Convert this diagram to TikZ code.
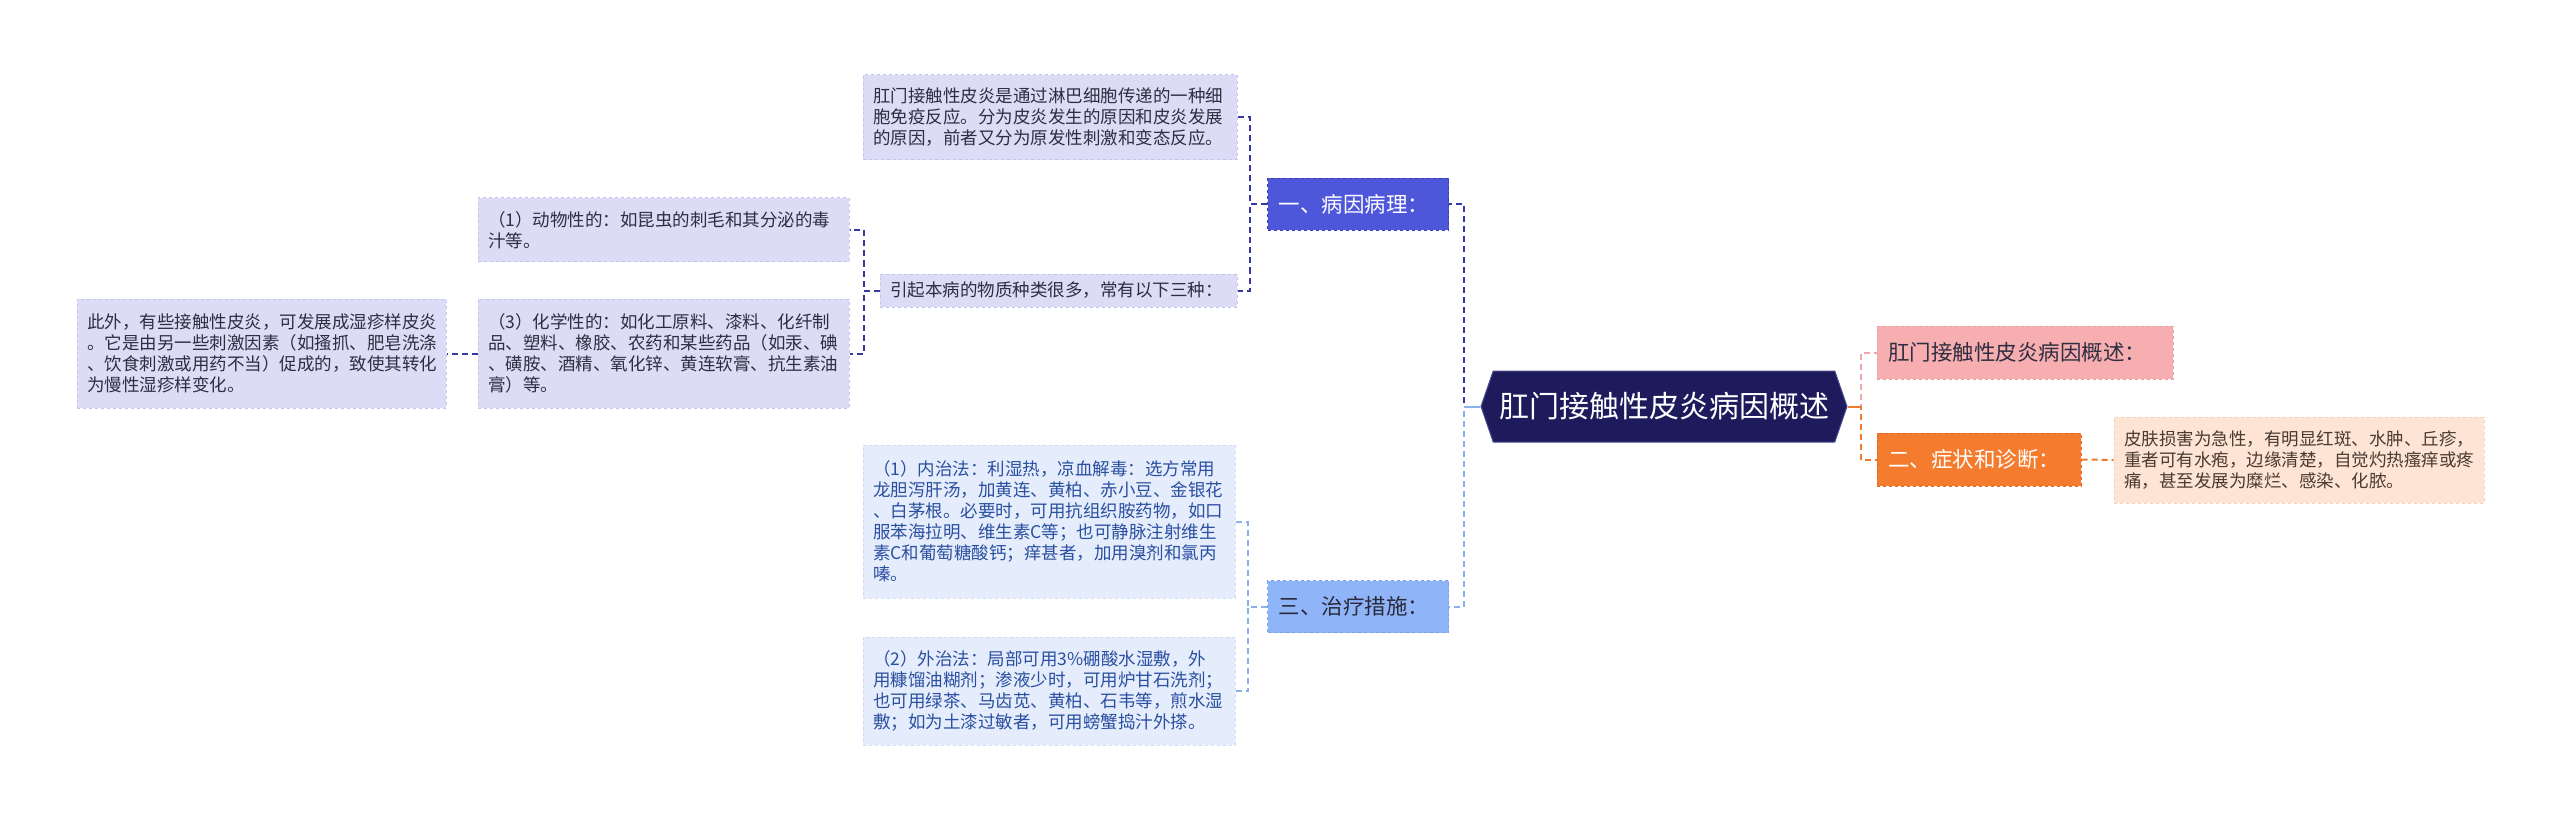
\documentclass[tikz,border=0pt]{standalone}
\usepackage{fontspec}
\setmainfont{Noto Sans CJK SC}
\usetikzlibrary{shapes.symbols}
\definecolor{lavfill}{HTML}{DCDCF7}
\definecolor{lavdraw}{HTML}{C4C4EC}
\definecolor{lavtext}{HTML}{2E2E40}
\definecolor{bonefill}{HTML}{4E56D9}
\definecolor{bonedraw}{HTML}{3A3EB4}
\definecolor{bthreefill}{HTML}{8FB4F7}
\definecolor{bthreedraw}{HTML}{7AA2EA}
\definecolor{bthreetext}{HTML}{2A2A3C}
\definecolor{cfill}{HTML}{E5EDFC}
\definecolor{cdraw}{HTML}{CCDAF6}
\definecolor{ctext}{HTML}{2A4FA0}
\definecolor{rootfill}{HTML}{1E1B5C}
\definecolor{rootdraw}{HTML}{4A4A8E}
\definecolor{pinkfill}{HTML}{F6AEB0}
\definecolor{pinkdraw}{HTML}{EE9DA0}
\definecolor{orangefill}{HTML}{F57C2E}
\definecolor{orangedraw}{HTML}{E06A20}
\definecolor{peachfill}{HTML}{FDE4D4}
\definecolor{peachdraw}{HTML}{F6D0B8}
\definecolor{peachtext}{HTML}{4A3A30}
\definecolor{darkline}{HTML}{363AA0}
\definecolor{lightline}{HTML}{8AB0EE}
\definecolor{pinkline}{HTML}{F2A6AA}
\definecolor{orangeline}{HTML}{EE7A30}
\begin{document}
\begin{tikzpicture}[x=1pt,y=-1pt,
  box/.style={rectangle, dashed, line width=1pt, inner xsep=10pt, inner ysep=0pt, align=left, font=\fontsize{17.5}{21}\selectfont},
  lav/.style={box, fill=lavfill, draw=lavdraw, text=lavtext},
  treat/.style={box, fill=cfill, draw=cdraw, text=ctext},
  peach/.style={box, fill=peachfill, draw=peachdraw, text=peachtext},
  branch/.style={rectangle, dashed, line width=1pt, inner xsep=11pt, inner ysep=0pt, align=left, font=\fontsize{21.5}{26}\selectfont},
  root/.style={signal, signal to=east and west, signal from=nowhere, signal pointer angle=142, fill=rootfill, draw=rootdraw, line width=1pt, text=white, inner sep=0pt, font=\fontsize{30}{36}\selectfont},
  con/.style={dash pattern=on 6pt off 4pt, line width=2pt},
  stub/.style={line width=2pt}
]
\useasboundingbox[fill=white] (0,0) rectangle (2560,821);

% root
\node[root, minimum width=366pt, minimum height=71pt] (root) at (1664,406.5) {肛门接触性皮炎病因概述};

% first level
\node[branch, fill=bonefill, draw=bonedraw, text=white, text width=159pt, minimum height=52pt] (b1) at (1358,204.5) {一、病因病理：};
\node[branch, fill=bthreefill, draw=bthreedraw, text=bthreetext, text width=159pt, minimum height=52pt] (b3) at (1358,606.5) {三、治疗措施：};
\node[branch, fill=pinkfill, draw=pinkdraw, text=lavtext, text width=274pt, minimum height=53pt] (p) at (2025,352.5) {肛门接触性皮炎病因概述：};
\node[branch, fill=orangefill, draw=orangedraw, text=white, text width=182pt, minimum height=53pt] (o) at (1979,459.5) {二、症状和诊断：};

% level 2 and deeper
\node[lav, text width=354pt, minimum height=85pt] (t1) at (1050,117.5) {肛门接触性皮炎是通过淋巴细胞传递的一种细\\胞免疫反应。分为皮炎发生的原因和皮炎发展\\的原因，前者又分为原发性刺激和变态反应。};
\node[lav, text width=337pt, minimum height=33pt] (t2) at (1058.5,290.5) {引起本病的物质种类很多，常有以下三种：};
\node[lav, text width=351pt, minimum height=64pt] (a1) at (663.5,230) {（1）动物性的：如昆虫的刺毛和其分泌的毒\\汁等。};
\node[lav, text width=351pt, minimum height=109pt] (a3) at (663.5,353.5) {（3）化学性的：如化工原料、漆料、化纤制\\品、塑料、橡胶、农药和某些药品（如汞、碘\\、磺胺、酒精、氧化锌、黄连软膏、抗生素油\\膏）等。};
\node[lav, text width=349pt, minimum height=109pt] (a4) at (261.5,353.5) {此外，有些接触性皮炎，可发展成湿疹样皮炎\\。它是由另一些刺激因素（如搔抓、肥皂洗涤\\、饮食刺激或用药不当）促成的，致使其转化\\为慢性湿疹样变化。};
\node[treat, text width=352pt, minimum height=153pt] (c1) at (1049,521.5) {（1）内治法：利湿热，凉血解毒：选方常用\\龙胆泻肝汤，加黄连、黄柏、赤小豆、金银花\\、白茅根。必要时，可用抗组织胺药物，如口\\服苯海拉明、维生素C等；也可静脉注射维生\\素C和葡萄糖酸钙；痒甚者，加用溴剂和氯丙\\嗪。};
\node[treat, text width=352pt, minimum height=108pt] (c2) at (1049,691) {（2）外治法：局部可用3\%硼酸水湿敷，外\\用糠馏油糊剂；渗液少时，可用炉甘石洗剂；\\也可用绿茶、马齿苋、黄柏、石韦等，煎水湿\\敷；如为土漆过敏者，可用螃蟹捣汁外搽。};
\node[peach, text width=350pt, minimum height=86pt] (q) at (2299,460) {皮肤损害为急性，有明显红斑、水肿、丘疹，\\重者可有水疱，边缘清楚，自觉灼热瘙痒或疼\\痛，甚至发展为糜烂、感染、化脓。};

% connectors
\draw[con, darkline] (root.west) -- ++(-16,0) |- (b1.east);
\draw[con, lightline] (root.west) -- ++(-16,0) |- (b3.east);
\draw[stub, lightline] (root.west) -- ++(-16,0);
\draw[con, pinkline] (root.east) -- ++(13,0) |- (p.west);
\draw[con, orangeline] (root.east) -- ++(13,0) |- (o.west);
\draw[stub, orangeline] (root.east) -- ++(13,0);
\draw[con, orangeline] (o.east) -- (q.west);
\draw[con, darkline] (b1.west) -- ++(-17,0) |- (t1.east);
\draw[con, darkline] (b1.west) -- ++(-17,0) |- (t2.east);
\draw[con, darkline] (t2.west) -- ++(-16,0) |- (a1.east);
\draw[con, darkline] (t2.west) -- ++(-16,0) |- (a3.east);
\draw[con, darkline] (a3.west) -- (a4.east);
\draw[con, lightline] (b3.west) -- ++(-19,0) |- (c1.east);
\draw[con, lightline] (b3.west) -- ++(-19,0) |- (c2.east);
\end{tikzpicture}
\end{document}
